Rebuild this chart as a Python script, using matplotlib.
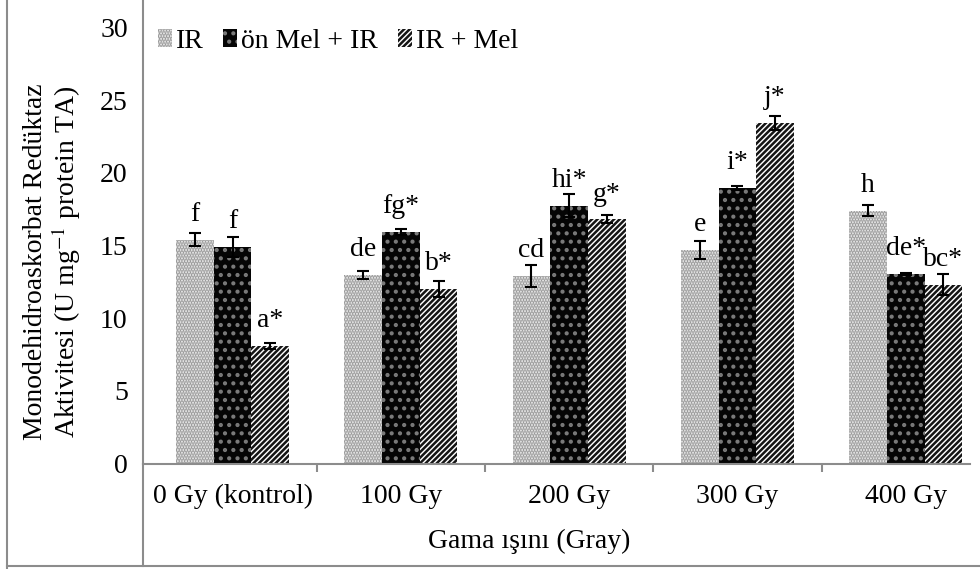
import matplotlib
matplotlib.use("Agg")
import matplotlib.pyplot as plt
from matplotlib.lines import Line2D
import numpy as np

plt.rcParams['font.family'] = ['Liberation Serif', 'DejaVu Serif']
plt.rcParams['hatch.linewidth'] = 1.8

doses = ['0 Gy (kontrol)', '100 Gy', '200 Gy', '300 Gy', '400 Gy']
series = ['IR', 'ön Mel + IR', 'IR + Mel']

ir = [15.4, 13.0, 12.9, 14.7, 17.4]
on_mel_ir = [14.9, 15.95, 17.75, 18.95, 13.05]
ir_mel = [8.1, 12.0, 16.8, 23.45, 12.3]

ir_err = [0.45, 0.28, 0.75, 0.6, 0.37]
on_mel_ir_err = [0.7, 0.2, 0.8, 0.12, 0.05]
ir_mel_err = [0.2, 0.57, 0.27, 0.47, 0.72]

ir_lbl = ['f', 'de', 'cd', 'e', 'h']
on_mel_ir_lbl = ['f', 'fg*', 'hi*', 'i*', 'de*']
ir_mel_lbl = ['a*', 'b*', 'g*', 'j*', 'bc*']

values = [ir, on_mel_ir, ir_mel]
errors = [ir_err, on_mel_ir_err, ir_mel_err]
labels = [ir_lbl, on_mel_ir_lbl, ir_mel_lbl]
styles = [
    dict(facecolor='#f2f2f2', edgecolor='#9a9a9a', hatch='......'),
    dict(facecolor='#050505', edgecolor='#7a7a7a', hatch='..'),
    dict(facecolor='white', edgecolor='#151515', hatch='//////'),
]

W, H = 980, 569
fs = 20
fig = plt.figure(figsize=(9.8, 5.69), dpi=100)
ax = fig.add_axes([143 / W, 1 - 463.5 / H, (970 - 143) / W, 463.5 / H])

x = np.arange(len(doses))
bw = 0.224
gray = '#8c8c8c'

for i in range(3):
    pos = x + (i - 1) * bw
    ax.bar(pos, values[i], bw, linewidth=0, label=series[i], **styles[i])
    ax.errorbar(pos, values[i], yerr=errors[i], fmt='none', ecolor='black',
                elinewidth=1.5, capsize=4.5, capthick=1.5)
    for p, v, t in zip(pos, values[i], labels[i]):
        ax.text(p, v + 1.3, t, ha='center', va='baseline', fontsize=fs)

ax.set_xlim(-0.532, 4.382)
ax.set_ylim(0, 31.9)
ax.set_yticks(range(0, 31, 5))
ax.tick_params(axis='y', length=0, pad=11, labelsize=fs)

bounds = np.arange(0.5, 4.5, 1)
ax.set_xticks(bounds)
ax.set_xticklabels([])
ax.tick_params(axis='x', which='major', length=6, width=1.5, color=gray, direction='out')
ax.set_xticks(x, minor=True)
ax.set_xticklabels(doses, minor=True, fontsize=fs)
ax.tick_params(axis='x', which='minor', length=0, pad=15)

for s in ['top', 'right']:
    ax.spines[s].set_visible(False)
for s in ['left', 'bottom']:
    ax.spines[s].set_color(gray)
    ax.spines[s].set_linewidth(1.5)

fig.text(529 / W, 1 - 541 / H, 'Gama ışını (Gray)', ha='center', va='center', fontsize=fs)
fig.text(53 / W, 1 - 262 / H,
         'Monodehidroaskorbat Redüktaz\nAktivitesi (U mg$^{-1}$ protein TA)',
         rotation=90, ha='center', va='center', fontsize=fs, linespacing=1.05,
         math_fontfamily='stix')

ax.legend(loc='upper left', bbox_to_anchor=(158 / W, 1 - 29 / H),
          bbox_transform=fig.transFigure, ncol=3, frameon=False, fontsize=fs,
          handlelength=0.5, handleheight=0.6, handletextpad=0.15,
          columnspacing=0.7, borderpad=0, borderaxespad=0)

fig.add_artist(Line2D([7 / W, 7 / W], [0, 1], transform=fig.transFigure, color=gray, lw=1.5))
fig.add_artist(Line2D([7 / W, 1], [1 - 566 / H, 1 - 566 / H], transform=fig.transFigure, color=gray, lw=1.5))
fig.add_artist(Line2D([143 / W, 143 / W], [1 - 566 / H, 1 - 463.5 / H], transform=fig.transFigure, color=gray, lw=1.5))

fig.savefig('out.png', dpi=100)
